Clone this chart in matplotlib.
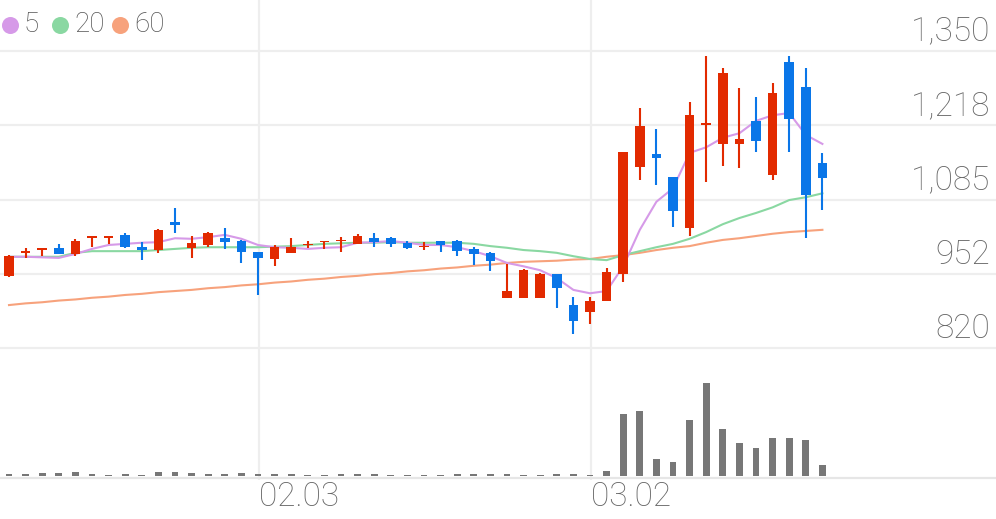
import matplotlib
matplotlib.use("Agg")
import matplotlib.pyplot as plt
import numpy as np

# 일봉 데이터 (시가, 고가, 저가, 종가)
opens = [949, 990, 995, 999, 988, 1017, 1017, 1022, 1000, 995,
         1045, 999, 1004, 1016, 1011, 991, 979, 990, 1004, 1009,
         1011, 1006, 1016, 1016, 1007, 1000, 1011, 1011, 997, 990,
         909, 909, 909, 952, 897, 885, 904, 952, 1143, 1166,
         1125, 1034, 1218, 1184, 1184, 1225, 1129, 1330, 1285, 1150]
highs = [986, 999, 999, 1006, 1015, 1018, 1018, 1025, 1009, 1032,
         1070, 1020, 1027, 1034, 1013, 991, 1004, 1016, 1011, 1011,
         1018, 1023, 1025, 1018, 1011, 1009, 1011, 1013, 1000, 991,
         970, 961, 954, 952, 911, 911, 963, 1170, 1248, 1211,
         1125, 1259, 1341, 1319, 1284, 1268, 1292, 1341, 1319, 1168]
lows = [947, 981, 984, 988, 984, 1000, 1005, 999, 977, 990,
        1025, 981, 1000, 997, 972, 915, 967, 990, 999, 997,
        991, 1006, 1000, 1000, 997, 995, 991, 984, 968, 958,
        909, 909, 909, 892, 845, 863, 904, 938, 1120, 1111,
        1036, 1020, 1116, 1145, 1141, 1170, 1120, 1170, 1016, 1066]
closes = [984, 991, 999, 988, 1011, 1018, 1018, 1000, 995, 1031,
          1040, 1008, 1025, 1009, 991, 981, 1000, 1000, 1006, 1011,
          1013, 1020, 1009, 1006, 999, 1002, 1004, 993, 988, 975,
          922, 959, 952, 927, 869, 904, 956, 1170, 1216, 1159,
          1065, 1236, 1220, 1310, 1193, 1189, 1275, 1228, 1093, 1123]

# 이동평균선
ma5 = [983, 983, 982, 981, 988, 997, 1004, 1006, 1008, 1009,
       1016, 1015, 1018, 1022, 1015, 1004, 1000, 999, 997, 999,
       1000, 1008, 1009, 1011, 1008, 1004, 1004, 1000, 993, 984,
       972, 966, 959, 945, 924, 918, 922, 966, 1031, 1081,
       1105, 1168, 1178, 1195, 1203, 1225, 1235, 1239, 1200, 1184]
ma20 = [983, 983, 983, 983, 990, 993, 993, 993, 993, 995,
        997, 999, 1000, 1000, 1000, 1000, 1001, 1002, 1004, 1006,
        1007, 1008, 1008, 1009, 1008, 1008, 1008, 1008, 1006, 1002,
        999, 995, 993, 990, 984, 979, 977, 986, 993, 1000,
        1006, 1015, 1027, 1041, 1052, 1061, 1071, 1084, 1089, 1096]
ma60 = [897, 900, 902, 905, 907, 910, 912, 915, 917, 920,
        922, 924, 927, 929, 932, 934, 937, 939, 942, 944,
        947, 949, 952, 954, 957, 959, 962, 964, 967, 969,
        972, 974, 975, 976, 978, 979, 983, 986, 990, 995,
        999, 1002, 1008, 1013, 1016, 1020, 1024, 1027, 1029, 1031]

# 거래량 (상대값)
volume = [20, 17, 27, 27, 37, 20, 12, 20, 14, 40,
          40, 30, 20, 20, 30, 20, 17, 17, 12, 10,
          20, 17, 20, 12, 10, 10, 14, 23, 17, 20,
          25, 10, 12, 20, 25, 10, 50, 620, 650, 170,
          140, 560, 930, 470, 330, 280, 380, 380, 360, 110]

price_ticks = [820, 952.5, 1085, 1217.5, 1350]
price_labels = ["820", "952", "1,085", "1,218", "1,350"]
date_pos = [15, 35]
date_labels = ["02.03", "03.02"]

ma_names = ["5", "20", "60"]
ma_colors = ["#d69ae8", "#8ad8a2", "#f7a27c"]
up_color = "#e22a00"
down_color = "#0a76e8"
grid_color = "#eeeeee"
text_color = "#666666"

plt.rcParams["font.family"] = ["Roboto", "DejaVu Sans"]

W, H = 996, 519
fig = plt.figure(figsize=(W / 100, H / 100), dpi=100)

step = 16.6          # px per candle
x0 = 9               # px of first candle
xl = (-x0 / step, (W - x0) / step)

# 배경 (세로 격자)
bg = fig.add_axes([0, 0, 1, 1])
bg.set_xlim(*xl)
bg.set_ylim(H, 0)
bg.axis("off")
for p in date_pos:
    bg.vlines(p + 0.05, 0, 480, color=grid_color, linewidth=1.6, zorder=0)
# 거래량 바닥선
bg.axhline(477.5, color="#e6e6e6", linewidth=1.6, zorder=0)

# 가격 차트
grid_top_px = 50.7
ppx = 132.5 / 74.4
price_top = 1350 + grid_top_px * ppx
price_bot = 1350 - (350 - grid_top_px) * ppx
ax = fig.add_axes([0, 1 - 350 / H, 1, 350 / H])
ax.patch.set_alpha(0)
ax.set_xlim(*xl)
ax.set_ylim(price_bot, price_top)
ax.axis("off")

for t, lab in zip(price_ticks, price_labels):
    ax.axhline(t, color=grid_color, linewidth=1.6, zorder=0)
    ax.annotate(lab, xy=(1, t), xycoords=("axes fraction", "data"),
                xytext=(-6, 10), textcoords="offset pixels",
                ha="right", va="baseline", fontsize=24, fontweight="light",
                color=text_color)

x = np.arange(len(closes))
ax.plot(x, ma60, color=ma_colors[2], linewidth=1.5, zorder=2)
ax.plot(x, ma20, color=ma_colors[1], linewidth=1.5, zorder=2)
ax.plot(x, ma5, color=ma_colors[0], linewidth=1.5, zorder=2)

o = np.array(opens)
c = np.array(closes)
colors = [up_color if cc >= oo else down_color for oo, cc in zip(o, c)]
ax.vlines(x, lows, highs, colors=colors, linewidth=1.5, zorder=3)
body_h = np.maximum(np.abs(c - o), 2.5)
body_b = np.where(c >= o, o, c)
ax.bar(x, body_h, bottom=body_b, width=0.57, color=colors, linewidth=0, zorder=4)

# 거래량
vol = fig.add_axes([0, 1 - 476 / H, 1, 124 / H])
vol.patch.set_alpha(0)
vol.set_xlim(*xl)
vol.set_ylim(0, 1240)
vol.axis("off")
vol.bar(x, volume, width=0.42, color="#777777", linewidth=0, zorder=3)

for p, lab in zip(date_pos, date_labels):
    bg.text(p + 0.05, 497, lab, ha="left", va="center", fontsize=24,
            fontweight="light", color=text_color)

# 범례
lx = [10, 60, 120]
for px, name, col in zip(lx, ma_names, ma_colors):
    bg.scatter([px / step + xl[0]], [25], s=150, color=col, linewidths=0)
    bg.text(px / step + xl[0] + 14 / step, 25, name, ha="left",
            va="center", fontsize=20, fontweight="light", color="#555555")

fig.savefig("out.png", dpi=100)
